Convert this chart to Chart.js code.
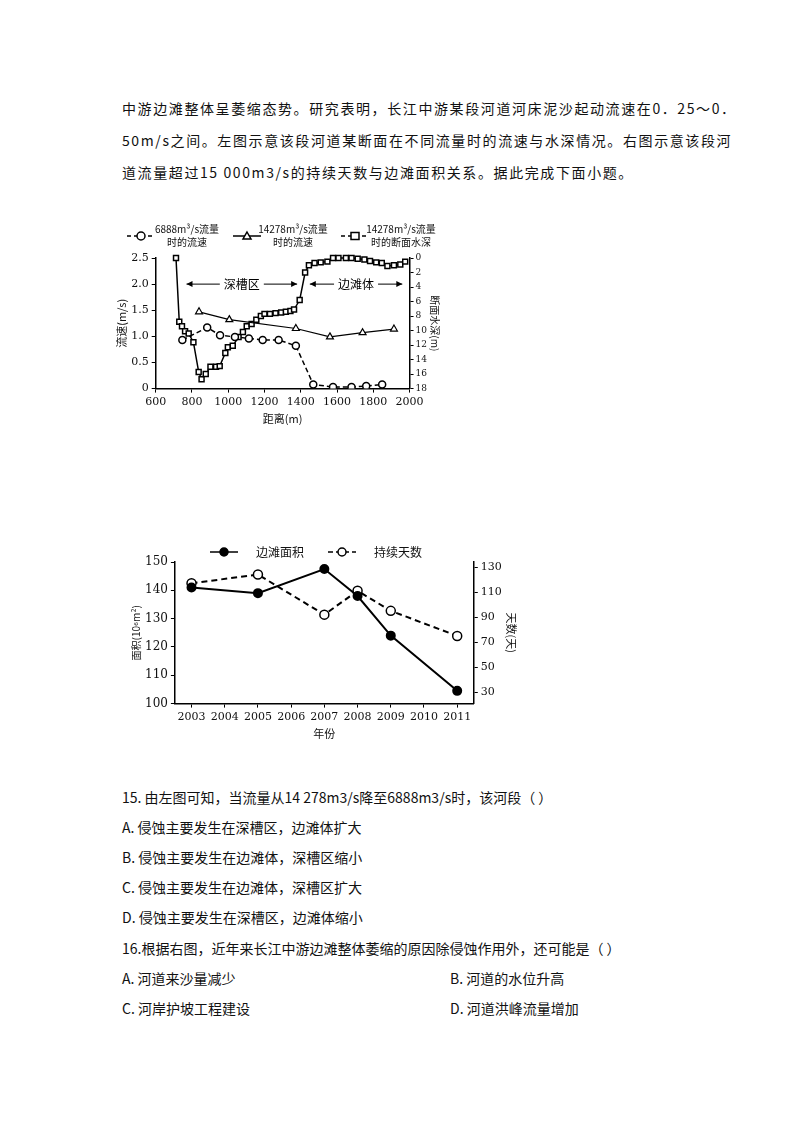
<!DOCTYPE html>
<html>
<head>
<meta charset="utf-8">
<script src="https://cdn.jsdelivr.net/npm/chart.js@4"></script>
<style>
  body { margin: 0; background: #fff; font-family: "Noto Sans CJK SC", sans-serif; color: #111; }
  .page { position: relative; width: 800px; height: 1132px; }
  .t { position: absolute; left: 122px; font-size: 14px; white-space: nowrap; }
  .p { letter-spacing: 1.6px; }
  canvas { position: absolute; }
</style>
</head>
<body>
<div class="page">
  <div class="t p" style="top:98px">中游边滩整体呈萎缩态势。研究表明，长江中游某段河道河床泥沙起动流速在0．25～0．</div>
  <div class="t p" style="top:130px">50m/s之间。左图示意该段河道某断面在不同流量时的流速与水深情况。右图示意该段河</div>
  <div class="t p" style="top:162px">道流量超过15 000m3/s的持续天数与边滩面积关系。据此完成下面小题。</div>

  <div id="c1wrap" style="position:absolute;left:115px;top:220px;width:330px;height:205px"><canvas id="c1"></canvas></div>
  <div id="c2wrap" style="position:absolute;left:130px;top:540px;width:392px;height:200px"><canvas id="c2"></canvas></div>

  <div class="t" style="top:787px">15. 由左图可知，当流量从14 278m3/s降至6888m3/s时，该河段（ ）</div>
  <div class="t" style="top:817px">A. 侵蚀主要发生在深槽区，边滩体扩大</div>
  <div class="t" style="top:847px">B. 侵蚀主要发生在边滩体，深槽区缩小</div>
  <div class="t" style="top:877px">C. 侵蚀主要发生在边滩体，深槽区扩大</div>
  <div class="t" style="top:907px">D. 侵蚀主要发生在深槽区，边滩体缩小</div>
  <div class="t" style="top:938px">16.根据右图，近年来长江中游边滩整体萎缩的原因除侵蚀作用外，还可能是（ ）</div>
  <div class="t" style="top:968px">A. 河道来沙量减少</div>
  <div class="t" style="top:968px;left:450px">B. 河道的水位升高</div>
  <div class="t" style="top:998px">C. 河岸护坡工程建设</div>
  <div class="t" style="top:998px;left:450px">D. 河道洪峰流量增加</div>
</div>
<script>
// ---- 左图数据 ----
var depthX = [712, 730, 745, 762, 782, 808, 837, 853, 876, 902, 933, 953, 984, 998, 1025, 1057, 1081, 1102, 1129, 1155, 1180, 1200, 1230, 1261, 1292, 1318, 1343, 1363, 1394, 1424, 1445, 1476, 1510, 1547, 1578, 1608, 1649, 1680, 1714, 1751, 1782, 1816, 1847, 1878, 1914, 1949, 1976];
var depthY = [0, 8.8, 9.4, 10.1, 10.4, 11.6, 15.7, 16.7, 16.0, 15.0, 15.0, 14.9, 13.1, 12.3, 12.1, 10.9, 10.2, 9.4, 9.1, 8.5, 8.0, 7.7, 7.7, 7.6, 7.5, 7.4, 7.3, 7.1, 5.8, 2.0, 1.0, 0.7, 0.6, 0.5, 0, 0, 0, 0, 0.1, 0.2, 0.4, 0.6, 0.7, 1.1, 1.0, 0.9, 0.5];
var lowX = [747, 884, 955, 1037, 1114, 1190, 1278, 1373, 1469, 1578, 1680, 1761, 1849];
var lowV = [0.93, 1.17, 1.02, 0.99, 0.96, 0.93, 0.93, 0.82, 0.08, 0.03, 0.03, 0.05, 0.08];
var highX = [839, 1006, 1373, 1561, 1741, 1914];
var highV = [1.47, 1.32, 1.15, 0.99, 1.07, 1.14];

// ---- 右图数据 ----
var years = ['2003', '2004', '2005', '2006', '2007', '2008', '2009', '2010', '2011'];
var area = [141, null, 139, null, 147.5, 138, 124, null, 104.5];
var days = [117, null, 124, null, 92, 111, 95, null, 75];

function pts(xs, ys) {
    return xs.map(function (x, i) { return { x: x, y: ys[i] }; });
}

var serif = '"DejaVu Serif", serif';
var cjk = '"Noto Sans CJK SC", sans-serif';
Chart.defaults.color = '#111';
Chart.defaults.animation = false;

function axisStyle(extra) {
    var a = {
        border: { color: '#000', width: 1.5 },
        grid: { drawOnChartArea: false, drawTicks: true, tickLength: 4, color: '#000' },
        ticks: { color: '#111', font: { family: serif, size: 11 }, padding: 2 }
    };
    for (var k in extra) a[k] = extra[k];
    return a;
}

// 画图例的小工具
function legendItem(ctx, x, y, dash, shape, lines) {
    ctx.save();
    ctx.strokeStyle = '#000';
    ctx.lineWidth = 1.5;
    ctx.setLineDash(dash);
    ctx.beginPath(); ctx.moveTo(x, y); ctx.lineTo(x + 28, y); ctx.stroke();
    ctx.setLineDash([]);
    ctx.fillStyle = shape === 'dot' ? '#000' : '#fff';
    ctx.beginPath();
    if (shape === 'tri') { ctx.moveTo(x + 14, y - 4); ctx.lineTo(x + 18, y + 3); ctx.lineTo(x + 10, y + 3); ctx.closePath(); }
    else if (shape === 'sq') { ctx.rect(x + 10, y - 3.5, 8, 7); }
    else { ctx.arc(x + 14, y, 4, 0, Math.PI * 2); }
    ctx.fill(); ctx.stroke();
    ctx.fillStyle = '#111';
    ctx.textBaseline = 'middle';
    ctx.textAlign = 'center';
    lines.forEach(function (t, i) {
        ctx.font = (lines.length > 1 ? '10px ' : '12px ') + cjk;
        ctx.fillText(t, x + (lines.length > 1 ? 60 : 70), y + (lines.length > 1 ? (i - 0.5) * 13 : 0));
    });
    ctx.restore();
}

var chart1Deco = {
    id: 'chart1Deco',
    afterDraw: function (chart) {
        var ctx = chart.ctx, xs = chart.scales.x, ys = chart.scales.y;
        legendItem(ctx, 12, 16, [4, 3], 'circ', ['6888m³/s流量', '时的流速']);
        legendItem(ctx, 118, 16, [], 'tri', ['14278m³/s流量', '时的流速']);
        legendItem(ctx, 226, 16, [4, 3], 'sq', ['14278m³/s流量', '时的断面水深']);
        // 深槽区 / 边滩体 标注
        var yy = ys.getPixelForValue(2.0);
        function arrowSpan(x0, x1, label) {
            var a = xs.getPixelForValue(x0), b = xs.getPixelForValue(x1), m = (a + b) / 2;
            ctx.save();
            ctx.strokeStyle = '#000'; ctx.fillStyle = '#000'; ctx.lineWidth = 1;
            ctx.beginPath(); ctx.moveTo(a, yy); ctx.lineTo(m - 22, yy); ctx.moveTo(m + 22, yy); ctx.lineTo(b, yy); ctx.stroke();
            ctx.beginPath(); ctx.moveTo(a, yy); ctx.lineTo(a + 6, yy - 3); ctx.lineTo(a + 6, yy + 3); ctx.fill();
            ctx.beginPath(); ctx.moveTo(b, yy); ctx.lineTo(b - 6, yy - 3); ctx.lineTo(b - 6, yy + 3); ctx.fill();
            ctx.font = '12px ' + cjk; ctx.textAlign = 'center'; ctx.textBaseline = 'middle';
            ctx.fillText(label, m, yy);
            ctx.restore();
        }
        arrowSpan(770, 1380, '深槽区');
        arrowSpan(1450, 1960, '边滩体');
    }
};

new Chart(document.getElementById('c1'), {
    type: 'line',
    data: {
        datasets: [{
            data: pts(lowX, lowV), yAxisID: 'y',
            borderColor: '#000', borderWidth: 1.5, borderDash: [5, 3],
            pointStyle: 'circle', pointRadius: 3.5, pointBackgroundColor: '#fff', pointBorderColor: '#000', pointBorderWidth: 1.5
        }, {
            data: pts(highX, highV), yAxisID: 'y',
            borderColor: '#000', borderWidth: 1.2,
            pointStyle: 'triangle', pointRadius: 4, pointBackgroundColor: '#fff', pointBorderColor: '#000', pointBorderWidth: 1.2
        }, {
            data: pts(depthX, depthY), yAxisID: 'y1', clip: 6,
            borderColor: '#000', borderWidth: 1.5,
            pointStyle: 'rect', pointRadius: 3.5, pointBackgroundColor: '#fff', pointBorderColor: '#000', pointBorderWidth: 1.5
        }]
    },
    options: {
        responsive: true, maintainAspectRatio: false,
        layout: { padding: { top: 38, right: 4 } },
        plugins: { legend: { display: false }, tooltip: { enabled: false } },
        scales: {
            x: axisStyle({
                type: 'linear', min: 600, max: 2000,
                ticks: { stepSize: 200, color: '#111', font: { family: serif, size: 11 }, maxRotation: 0,
                    callback: function (v) { return String(v); } },
                title: { display: true, text: '距离(m)', font: { family: cjk, size: 11 }, padding: 0 }
            }),
            y: axisStyle({
                min: 0, max: 2.5,
                ticks: { stepSize: 0.5, color: '#111', font: { family: serif, size: 11 },
                    callback: function (v) { return v === 0 ? '0' : v.toFixed(1); } },
                title: { display: true, text: '流速(m/s)', font: { family: cjk, size: 11 }, padding: 0 }
            }),
            y1: axisStyle({
                position: 'right', reverse: true, min: 0, max: 18,
                ticks: { stepSize: 2, autoSkip: false, color: '#111', font: { family: serif, size: 9 }, padding: 2 },
                title: { display: true, text: '断面水深(m)', font: { family: cjk, size: 10 }, padding: 0 }
            })
        }
    },
    plugins: [chart1Deco]
});

var chart2Deco = {
    id: 'chart2Deco',
    afterDraw: function (chart) {
        var ctx = chart.ctx;
        legendItem(ctx, 80, 12, [], 'dot', ['边滩面积']);
        legendItem(ctx, 198, 12, [5, 3], 'circ', ['持续天数']);
    }
};

new Chart(document.getElementById('c2'), {
    type: 'line',
    data: {
        labels: years,
        datasets: [{
            data: area, yAxisID: 'y', spanGaps: true,
            borderColor: '#000', borderWidth: 2,
            pointRadius: 4, pointBackgroundColor: '#000', pointBorderColor: '#000'
        }, {
            data: days, yAxisID: 'y1', spanGaps: true,
            borderColor: '#000', borderWidth: 2, borderDash: [6, 4],
            pointRadius: 4.5, pointBackgroundColor: '#fff', pointBorderColor: '#000', pointBorderWidth: 1.5
        }]
    },
    options: {
        responsive: true, maintainAspectRatio: false,
        layout: { padding: { top: 22, right: 4 } },
        plugins: { legend: { display: false }, tooltip: { enabled: false } },
        scales: {
            x: axisStyle({
                offset: true,
                grid: { drawOnChartArea: false, drawTicks: true, tickLength: 4, color: '#000', offset: false },
                ticks: { color: '#111', font: { family: serif, size: 11 }, maxRotation: 0, autoSkip: false },
                title: { display: true, text: '年份', font: { family: cjk, size: 11 }, padding: 0 }
            }),
            y: axisStyle({
                min: 100, max: 150,
                ticks: { stepSize: 10, color: '#111', font: { family: serif, size: 12 } },
                title: { display: true, text: '面积(10⁶m²)', font: { family: cjk, size: 10 }, padding: 0 }
            }),
            y1: axisStyle({
                position: 'right', min: 21, max: 134,
                afterBuildTicks: function (s) {
                    s.ticks = [30, 50, 70, 90, 110, 130].map(function (v) { return { value: v }; });
                },
                ticks: { color: '#111', font: { family: serif, size: 11 } },
                title: { display: true, text: '天数(天)', font: { family: cjk, size: 11 }, padding: 0 }
            })
        }
    },
    plugins: [chart2Deco]
});
</script>
</body>
</html>
